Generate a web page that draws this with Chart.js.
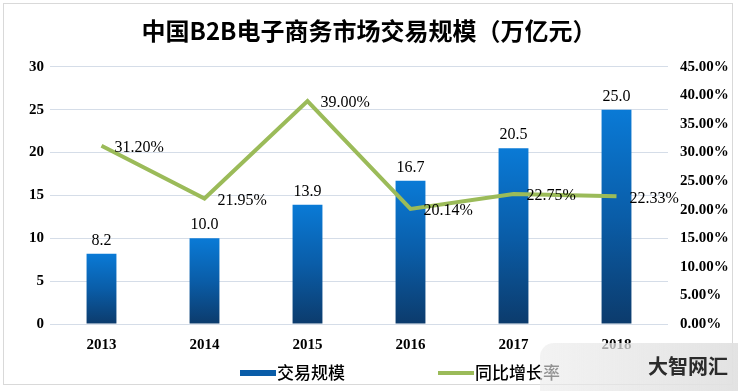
<!DOCTYPE html>
<html>
<head>
<meta charset="utf-8">
<script src="https://cdn.jsdelivr.net/npm/chart.js@4.4.0/dist/chart.umd.min.js"></script>
<style>
  html, body { margin: 0; padding: 0; background: #fff; }
  #wrap { position: relative; width: 738px; height: 391px; }
  #frame { position: absolute; left: 3px; top: 3px; width: 730px; height: 382px; border: 1px solid #d9d9d9; box-sizing: border-box; pointer-events: none; }
  .leg { position: absolute; top: 361px; height: 22px; font: 500 17px "Noto Sans CJK SC", sans-serif; color: #000; line-height: 22px; }
  .leg i { display: inline-block; width: 36px; vertical-align: middle; margin-right: 1px; margin-top: -2px; }
  #mark { position: absolute; left: 540px; top: 343px; width: 198px; height: 48px; border-top-left-radius: 14px;
          background: linear-gradient(to right, rgba(235,235,235,0.6), rgba(225,225,225,0.95));
          font: bold 20px "Noto Sans CJK SC", sans-serif; color: #2b2b2b; text-align: right; box-sizing: border-box; padding: 8px 10px 0 0; }
</style>
</head>
<body>
<div id="wrap">
  <canvas id="myChart" width="738" height="391"></canvas>
  <div id="frame"></div>
  <div class="leg" style="left:240px"><i style="height:6px;background:#0a5da8"></i>交易规模</div>
  <div class="leg" style="left:438px"><i style="height:4px;background:#9bbb59"></i>同比增长率</div>
  <div id="mark">大智网汇</div>
</div>
<script>
var years = ['2013', '2014', '2015', '2016', '2017', '2018'];
var scale = [8.2, 10.0, 13.9, 16.7, 20.5, 25.0];      // 交易规模 (万亿元)
var growth = [31.20, 21.95, 39.00, 20.14, 22.75, 22.33]; // 同比增长率 (%)

var tickFont = { family: '"Liberation Serif", "Times New Roman", serif', size: 15, weight: 'bold' };

function barFill(ctx) {
  var chart = ctx.chart;
  if (!chart.chartArea || ctx.dataIndex === undefined) return '#0a6fc2';
  var y = chart.scales.y;
  var top = y.getPixelForValue(scale[ctx.dataIndex]);
  var bottom = y.getPixelForValue(0);
  var g = chart.ctx.createLinearGradient(0, top, 0, bottom);
  g.addColorStop(0, '#0a7ad6');
  g.addColorStop(0.5, '#0a5da8');
  g.addColorStop(1, '#0c3b6c');
  return g;
}

// value labels on bars and on the line
var valueLabels = {
  id: 'valueLabels',
  afterDatasetsDraw: function(chart) {
    var c = chart.ctx;
    c.save();
    c.font = '16px "Liberation Serif", "Times New Roman", serif';
    c.fillStyle = '#000';
    chart.getDatasetMeta(0).data.forEach(function(bar, i) {
      c.textAlign = 'center';
      c.textBaseline = 'bottom';
      c.fillText(scale[i].toFixed(1), bar.x, bar.y - 5);
    });
    chart.getDatasetMeta(1).data.forEach(function(pt, i) {
      c.textAlign = 'left';
      c.textBaseline = 'middle';
      c.fillText(growth[i].toFixed(2) + '%', pt.x + 13, pt.y + 2);
    });
    c.restore();
  }
};

const data = {
  labels: years,
  datasets: [{
    type: 'bar',
    label: '交易规模',
    data: scale,
    backgroundColor: barFill,
    yAxisID: 'y',
    barPercentage: 0.29,
    categoryPercentage: 1,
    order: 2
  },
  {
    type: 'line',
    label: '同比增长率',
    data: growth,
    borderColor: '#9bbb59',
    backgroundColor: '#9bbb59',
    borderWidth: 4,
    pointRadius: 0,
    tension: 0,
    yAxisID: 'y1',
    order: 1
  }]
};

const config = {
  data,
  options: {
    responsive: false,
    animation: false,
    layout: { padding: { left: 0, right: 0, top: 0, bottom: 37 } },
    plugins: {
      title: {
        display: true,
        text: '中国B2B电子商务市场交易规模（万亿元）',
        color: '#000',
        font: { family: '"Noto Sans CJK SC", sans-serif', size: 24, weight: 'bold' },
        padding: { top: 16, bottom: 22 }
      },
      legend: { display: false },
      tooltip: { enabled: false }
    },
    scales: {
      x: {
        grid: { display: false },
        border: { display: false },
        ticks: { color: '#000', font: tickFont, padding: 4 },
        afterFit: function(s) { s.height = 30; }
      },
      y: {
        position: 'left',
        min: 0, max: 30,
        ticks: { stepSize: 5, color: '#000', font: tickFont, padding: 6 },
        grid: { color: '#d5dde8', drawTicks: false },
        border: { display: false },
        afterFit: function(s) { s.width = 50; }
      },
      y1: {
        position: 'right',
        min: 0, max: 45,
        ticks: {
          stepSize: 5, color: '#000', font: tickFont, padding: 12,
          callback: function(v) { return v.toFixed(2) + '%'; }
        },
        grid: { display: false, drawTicks: false },
        border: { display: false },
        afterFit: function(s) { s.width = 70; }
      }
    }
  },
  plugins: [valueLabels]
};

var myChart = new Chart(document.getElementById('myChart'), config);
</script>
</body>
</html>
